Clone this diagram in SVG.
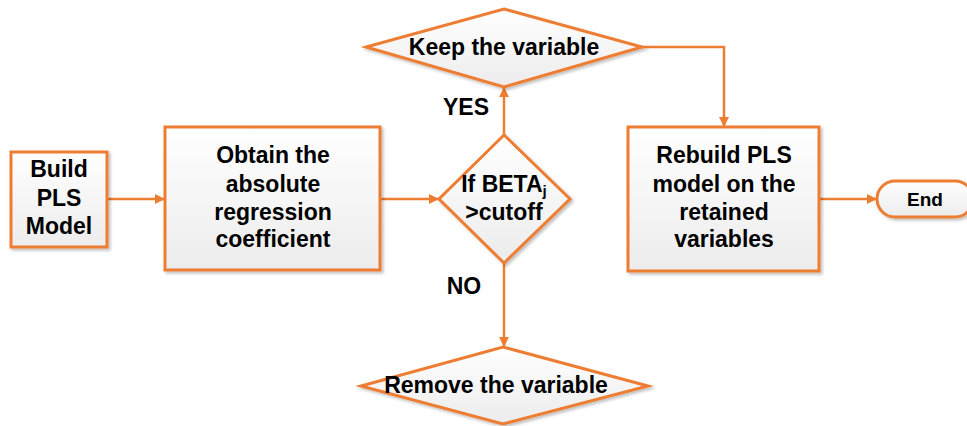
<svg xmlns="http://www.w3.org/2000/svg" width="967" height="426" viewBox="0 0 967 426">
<defs>
<linearGradient id="g" x1="0" y1="0" x2="0" y2="1">
<stop offset="0" stop-color="#ffffff"/>
<stop offset="1" stop-color="#ececec"/>
</linearGradient>
<filter id="sh" x="-10%" y="-10%" width="130%" height="130%">
<feDropShadow dx="2" dy="2" stdDeviation="1.5" flood-color="#000" flood-opacity="0.25"/>
</filter>
<marker id="ah" viewBox="0 0 10 10" refX="10" refY="5" markerWidth="10" markerHeight="10" markerUnits="userSpaceOnUse" orient="auto">
<path d="M0,0 L10,5 L0,10 z" fill="#ED7D31"/>
</marker>
</defs>
<style>
.n{fill:url(#g);stroke:#ED7D31;stroke-width:3;filter:url(#sh)}
.c{fill:none;stroke:#ED7D31;stroke-width:2.5;marker-end:url(#ah)}
.t{font-family:"Liberation Sans",Arial,sans-serif;font-weight:bold;font-size:23px;fill:#000;text-anchor:middle}
</style>
<g id="connectors">
<path class="c" d="M107,199 H165"/>
<path class="c" d="M380,199 H439"/>
<path class="c" d="M504,135 V87"/>
<path class="c" d="M504,263 V347"/>
<path class="c" d="M642,47 H724 V127"/>
<path class="c" d="M819,199 H877"/>
</g>
<g id="build">
<rect class="n" x="11" y="152" width="96" height="95"/>
<text class="t" x="59" y="177">Build</text>
<text class="t" x="59" y="206">PLS</text>
<text class="t" x="59" y="234">Model</text>
</g>
<g id="obtain">
<rect class="n" x="165" y="127" width="215" height="143"/>
<text class="t" x="273" y="163">Obtain the</text>
<text class="t" x="273" y="192">absolute</text>
<text class="t" x="273" y="220">regression</text>
<text class="t" x="273" y="247">coefficient</text>
</g>
<g id="decision">
<polygon class="n" points="504,135 570,199 504,263 439,199"/>
<text class="t" x="504" y="192">If BETA<tspan font-size="15" dy="4">j</tspan></text>
<text class="t" x="504" y="220">&gt;cutoff</text>
</g>
<g id="keep">
<polygon class="n" points="504,9 642,47 504,87 366,47"/>
<text class="t" x="504" y="55">Keep the variable</text>
</g>
<g id="remove">
<polygon class="n" points="503,347 648,386 503,424 361,386"/>
<text class="t" x="496" y="393">Remove the variable</text>
</g>
<g id="rebuild">
<rect class="n" x="628" y="127" width="191" height="144"/>
<text class="t" x="724" y="163">Rebuild PLS</text>
<text class="t" x="724" y="192">model on the</text>
<text class="t" x="724" y="220">retained</text>
<text class="t" x="724" y="247">variables</text>
</g>
<g id="end">
<rect class="n" x="877" y="181" width="96" height="36" rx="18" ry="18"/>
<text class="t" x="925" y="206" style="font-size:19px">End</text>
</g>
<g id="labels">
<text class="t" x="466" y="115">YES</text>
<text class="t" x="464" y="294">NO</text>
</g>
</svg>
